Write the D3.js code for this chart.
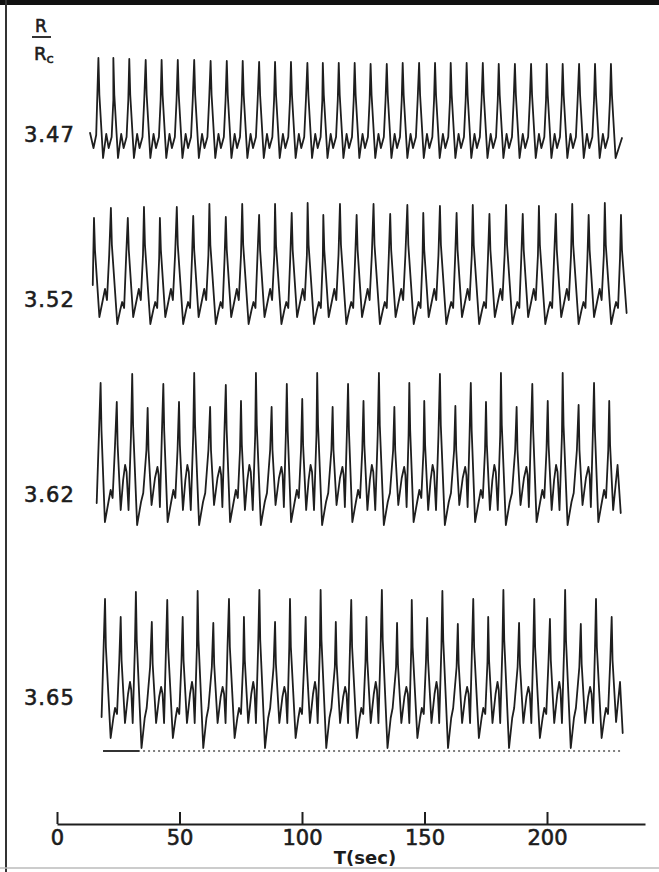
<!DOCTYPE html>
<html>
<head>
<meta charset="utf-8">
<script src="https://cdn.jsdelivr.net/npm/d3@7"></script>
<style>
  html, body { margin: 0; padding: 0; background: #fff; }
  svg { display: block; }
  text { font-family: "DejaVu Sans", sans-serif; fill: #1c1c1c; }
  .heavy { stroke: #1c1c1c; stroke-width: 0.6px; }
</style>
</head>
<body>
<script>
// Resistance ratio R/Rc of each recorded trace
const ratioLabels = ["3.47", "3.52", "3.62", "3.65"];
const timeTicks = [0, 50, 100, 150, 200];

// ---- Trace R/Rc = 3.47 : simple relaxation spikes ----
const peakT_347 = [16.9, 23.0, 29.5, 36.2, 42.7, 49.3, 56.0, 62.7, 69.3, 75.8, 82.5, 89.0, 95.5, 102.2, 108.5,
  115.0, 121.5, 128.0, 134.6, 141.1, 147.8, 154.3, 160.7, 167.2, 173.8, 180.3, 186.9, 193.5, 199.9, 206.4, 213.1, 219.6, 226.1];
const peakV_347 = [107, 107, 106, 105, 105, 105, 105, 104, 104, 104, 103, 103, 103, 102, 102,
  102, 102, 101, 101, 102, 102, 102, 102, 102, 102, 101, 101, 101, 101, 101, 101, 101, 101];
const kind_347 = "aaaaaaaaaaaaaaaaaaaaaaaaaaaaaaaaa";
const after_347_a = [[0.4, 70], [1.9, 7], [3.2, 31], [4.2, 17], [5.4, 28], [6.1, 65]];
const lead_347 = [[13.5, 32], [14.9, 17], [16.0, 30]];
const tail_347 = [[226.5, 70], [228.0, 7], [230.6, 27]];

// ---- Trace R/Rc = 3.52 : alternating short / tall spikes ----
const peakT_352 = [15.1, 22.0, 28.9, 35.5, 42.0, 48.9, 55.6, 62.2, 68.9, 75.6, 82.5, 89.0, 95.8, 102.3, 108.7,
  115.5, 122.3, 129.2, 136.0, 143.0, 149.5, 156.3, 163.1, 169.7, 176.5, 183.3, 190.1, 196.7, 203.6, 210.3, 217.0, 223.6, 230.2];
const peakV_352 = [112, 122, 112, 123, 112, 123, 114, 126, 113, 126, 115, 126, 117, 127, 115,
  126, 115, 126, 116, 125, 117, 124, 117, 125, 116, 125, 116, 124, 116, 126, 115, 127, 115];
const kind_352 = "STSTSTSTSTSTSTSTSTSTSTSTSTSTSTSTS";
const after_352_S = [[0.4, 80], [2.2, 13], [3.6, 30], [4.5, 41], [5.3, 30], [6.2, 75]];
const after_352_T = [[0.4, 85], [2.6, 6], [3.8, 20], [4.6, 28], [5.4, 22], [6.2, 72]];
const lead_352 = [[14.6, 45]];
const tail_352 = [[230.6, 80], [232.5, 17]];

// ---- Trace R/Rc = 3.62 : period-four spike pattern ----
const peakT_362 = [17.8, 24.4, 30.7, 37.0, 43.4, 49.8, 56.0, 62.5, 68.9, 75.1, 81.2, 87.6, 93.8, 100.1, 106.2,
  112.5, 118.8, 125.1, 131.4, 137.7, 143.8, 149.9, 156.3, 162.6, 168.9, 175.1, 181.2, 187.6, 194.0, 200.3, 206.4, 212.9, 219.2, 225.4];
const peakV_362 = [147, 128, 156, 122, 146, 128, 157, 123, 145, 129, 157, 123, 146, 131, 157,
  123, 146, 129, 157, 123, 147, 129, 156, 124, 147, 128, 157, 123, 146, 129, 157, 125, 147, 129];
const kind_362 = "MSTsMSTsMSTsMSTsMSTsMSTsMSTsMSTsMS";
const after_362_M = [[0.35, 100], [1.75, 8], [3.2, 28], [4.1, 40], [4.9, 32], [5.8, 80]];
const after_362_S = [[0.35, 85], [1.6, 20], [2.6, 50], [3.4, 65], [4.0, 58], [4.8, 20], [5.8, 95]];
const after_362_T = [[0.35, 105], [2.0, 5], [3.6, 28], [4.5, 37], [5.8, 80]];
const after_362_s = [[0.35, 80], [1.6, 25], [3.0, 52], [4.0, 63], [4.5, 55], [5.0, 23], [5.8, 95]];
const lead_362 = [[16.2, 27]];
const tail_362 = [[225.75, 85], [227.0, 20], [228.8, 65], [230.1, 17]];

// ---- Trace R/Rc = 3.65 ----
const peakT_365 = [19.6, 26.0, 32.2, 38.7, 45.0, 51.3, 57.4, 63.8, 70.2, 76.3, 82.6, 89.0, 95.1, 101.5, 107.6,
  113.8, 120.1, 126.3, 132.6, 138.8, 144.8, 151.1, 157.3, 163.6, 169.9, 176.0, 182.2, 188.6, 194.8, 201.2, 207.4, 213.8, 220.0, 226.4];
const peakV_365 = [153, 135, 160, 130, 152, 135, 161, 129, 153, 135, 162, 130, 153, 135, 162,
  130, 152, 135, 162, 129, 152, 134, 161, 128, 153, 135, 162, 129, 153, 133, 162, 128, 153, 135];
const kind_365 = "MSTsMSTsMSTsMSTsMSTsMSTsMSTsMSTsMS";
const after_365_M = [[0.35, 105], [2.3, 14], [3.4, 34], [4.1, 44], [4.9, 38], [5.8, 90]];
const after_365_S = [[0.35, 92], [1.75, 29], [3.0, 58], [3.8, 70], [4.3, 62], [4.9, 29], [5.8, 105]];
const after_365_T = [[0.35, 112], [2.3, 4], [3.6, 34], [4.4, 44], [5.8, 85]];
const after_365_s = [[0.35, 88], [1.75, 29], [3.0, 55], [3.8, 65], [4.4, 58], [5.0, 29], [5.8, 105]];
const lead_365 = [[18.2, 35]];
const tail_365 = [[226.75, 92], [228.2, 30], [229.8, 70], [230.9, 19]];
const baselineSpan_365 = [18.8, 230.9];
const baselineSolid_365 = [18.8, 33.5];

const traces = [
  { t: peakT_347, v: peakV_347, kind: kind_347, after: { a: after_347_a }, lead: lead_347, tail: tail_347, base: 165 },
  { t: peakT_352, v: peakV_352, kind: kind_352, after: { S: after_352_S, T: after_352_T }, lead: lead_352, tail: tail_352, base: 330 },
  { t: peakT_362, v: peakV_362, kind: kind_362, after: { M: after_362_M, S: after_362_S, T: after_362_T, s: after_362_s }, lead: lead_362, tail: tail_362, base: 530 },
  { t: peakT_365, v: peakV_365, kind: kind_365, after: { M: after_365_M, S: after_365_S, T: after_365_T, s: after_365_s }, lead: lead_365, tail: tail_365, base: 752 }
];
const labelY = [134, 299, 494, 697];

const W = 659, H = 872;
const svg = d3.select("body").append("svg").attr("width", W).attr("height", H);

// frame: heavy top rule, left rule, faint bottom rule
svg.append("rect").attr("x", 0).attr("y", 0).attr("width", W).attr("height", 5).attr("fill", "#111");
svg.append("line").attr("x1", 6).attr("x2", 6).attr("y1", 0).attr("y2", H).attr("stroke", "#333").attr("stroke-width", 2);
svg.append("line").attr("x1", 0).attr("x2", W).attr("y1", 868).attr("y2", 868).attr("stroke", "#bbb").attr("stroke-width", 1.5);

const x = d3.scaleLinear().domain([0, 240]).range([57, 645]);

// builds the point sequence of one trace from its spikes and the inter-spike shape of each kind
function tracePoints(tr) {
  const pts = tr.lead.map(d => [d[0], d[1]]);
  tr.t.forEach((tp, i) => {
    pts.push([tp, tr.v[i]]);
    if (i < tr.t.length - 1) {
      tr.after[tr.kind[i]].forEach(d => pts.push([tp + d[0], d[1]]));
    }
  });
  tr.tail.forEach(d => pts.push([d[0], d[1]]));
  return pts;
}

traces.forEach((tr, k) => {
  const y = d3.scaleLinear().domain([0, 170]).range([tr.base, tr.base - 170]);
  const line = d3.line().x(d => x(d[0])).y(d => y(d[1]));
  svg.append("path")
    .datum(tracePoints(tr))
    .attr("d", line)
    .attr("fill", "none")
    .attr("stroke", "#1e1e1e")
    .attr("stroke-width", 1.8)
    .attr("stroke-linejoin", "round")
    .attr("stroke-linecap", "round");
  svg.append("text")
    .attr("class", "heavy")
    .attr("x", 24).attr("y", labelY[k])
    .attr("dy", "0.36em")
    .attr("font-size", 21)
    .attr("letter-spacing", 1)
    .text(ratioLabels[k]);
  if (k === 3) {
    svg.append("line")
      .attr("x1", x(baselineSpan_365[0])).attr("x2", x(baselineSpan_365[1]))
      .attr("y1", y(1)).attr("y2", y(1))
      .attr("stroke", "#555").attr("stroke-width", 1.4)
      .attr("stroke-dasharray", "2 3");
    svg.append("line")
      .attr("x1", x(baselineSolid_365[0])).attr("x2", x(baselineSolid_365[1]))
      .attr("y1", y(1)).attr("y2", y(1))
      .attr("stroke", "#333").attr("stroke-width", 1.8);
  }
});

// R / Rc heading
svg.append("text").attr("class", "heavy").attr("x", 41).attr("y", 32).attr("text-anchor", "middle").attr("font-size", 17).text("R");
svg.append("line").attr("x1", 32).attr("x2", 51).attr("y1", 37).attr("y2", 37).attr("stroke", "#1c1c1c").attr("stroke-width", 1.8);
const rc = svg.append("text").attr("class", "heavy").attr("x", 34).attr("y", 60).attr("font-size", 18);
rc.append("tspan").text("R");
rc.append("tspan").attr("font-size", 13).attr("dy", 3).text("c");

// time axis
const axis = d3.axisBottom(x).tickValues(timeTicks).tickSize(-12).tickSizeOuter(0).tickPadding(6);
const ax = svg.append("g").attr("transform", "translate(0,824)").call(axis);
ax.select(".domain").attr("stroke", "#1e1e1e").attr("stroke-width", 2);
ax.selectAll(".tick line").attr("stroke", "#1e1e1e").attr("stroke-width", 2);
ax.selectAll(".tick text").attr("class", "heavy").attr("font-size", 21).attr("font-family", "DejaVu Sans, sans-serif").attr("fill", "#1c1c1c");
svg.append("text").attr("x", 365).attr("y", 858).attr("text-anchor", "middle").attr("dy", "0.36em")
  .attr("font-size", 18).attr("font-weight", "bold").text("T(sec)");
</script>
</body>
</html>
